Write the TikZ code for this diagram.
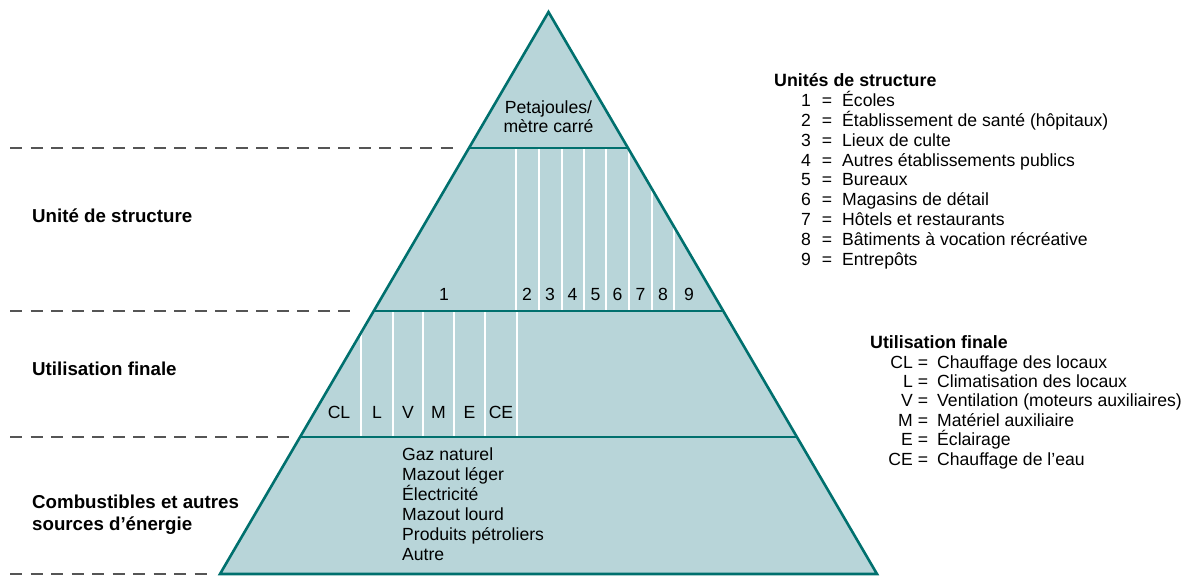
\documentclass[tikz,border=0pt]{standalone}
\usepackage{fontspec}
\setmainfont{Liberation Sans}
\definecolor{pfill}{HTML}{B8D5D9}
\definecolor{pline}{HTML}{00706E}
\definecolor{dashgray}{HTML}{555555}
\begin{document}
\begin{tikzpicture}[x=1pt,y=-1pt,
  txt/.style={font=\fontsize{17.6}{20}\selectfont, inner sep=0pt, anchor=base},
  txtw/.style={txt, anchor=base west},
  txte/.style={txt, anchor=base east},
  head/.style={font=\fontsize{17.8}{20}\selectfont\bfseries, inner sep=0pt, anchor=base west},
  lab/.style={font=\fontsize{18.7}{22}\selectfont\bfseries, inner sep=0pt, anchor=base west},
  sepline/.style={white, line width=1.6pt},
  tier/.style={pline, line width=2.6pt},
  guide/.style={dashgray, line width=1.4pt, dash pattern=on 12pt off 8.5pt}
]
\useasboundingbox (0,0) rectangle (1193,576);
\coordinate (A) at (548.5,12);
\coordinate (BL) at (220,574);
\coordinate (BR) at (877,574);
% pyramid
\fill[pfill] (A) -- (BL) -- (BR) -- cycle;
\begin{scope}
  \clip (A) -- (BL) -- (BR) -- cycle;
  \foreach \x in {516,539,562,584,606,629,652,674} \draw[sepline] (\x,148) -- (\x,311);
  \foreach \x in {361,393,423,454,485,517} \draw[sepline] (\x,311) -- (\x,437);
  \foreach \y in {148,311,437} \draw[tier] (200,\y) -- (900,\y);
\end{scope}
\draw[tier, line join=miter] (A) -- (BL) -- (BR) -- cycle;
% dashed guides
\draw[guide] (10,148) -- (455,148);
\draw[guide] (10,311) -- (357,311);
\draw[guide] (10,437) -- (290,437);
\draw[guide] (10,574) -- (212,574);
% left labels
\node[lab] (l1) at (32,222) {Unité de structure};
\node[lab] (l2) at (32,375) {Utilisation finale};
\node[lab] (l3) at (32,508) {Combustibles et autres};
\node[lab] (l4) at (32,530) {sources d’énergie};
% top
\node[txt] (p1) at (548.5,113.5) {Petajoules/};
\node[txt] (p2) at (548.5,132.5) {mètre carré};
% tier 2 numbers
\foreach \n/\x in {1/444,2/527,3/550,4/572.5,5/595.5,6/617.5,7/640.5,8/663,9/689}
  \node[txt] (n\n) at (\x,300) {\n};
% tier 3 codes
\foreach \c/\x in {CL/339,L/377,V/408,M/438.5,E/469.5,CE/501}
  \node[txt] (c\c) at (\x,418) {\c};
% tier 4 list
\foreach \t [count=\i] in {Gaz naturel,Mazout léger,Électricité,Mazout lourd,Produits pétroliers,Autre}
  \node[txtw] (f\i) at (402,{460+20*(\i-1)}) {\t};
% legend 1
\node[head] (h1) at (774,86) {Unités de structure};
\foreach \t [count=\i] in {Écoles,Établissement de santé (hôpitaux),Lieux de culte,Autres établissements publics,Bureaux,Magasins de détail,Hôtels et restaurants,Bâtiments à vocation récréative,Entrepôts}{
  \node[txte] (k\i) at (811,{106.7+19.8*(\i-1)}) {\i};
  \node[txt] (e\i) at (827,{106.7+19.8*(\i-1)}) {=};
  \node[txtw] (d\i) at (842,{106.7+19.8*(\i-1)}) {\t};
}
% legend 2
\node[head] (h2) at (870,348) {Utilisation finale};
\foreach \a/\t [count=\i] in {CL/Chauffage des locaux,L/Climatisation des locaux,V/Ventilation (moteurs auxiliaires),M/Matériel auxiliaire,E/Éclairage,CE/Chauffage de l’eau}{
  \node[txte] (u\i) at (913,{368+19.4*(\i-1)}) {\a};
  \node[txt] (q\i) at (923,{368+19.4*(\i-1)}) {=};
  \node[txtw] (v\i) at (937,{368+19.4*(\i-1)}) {\t};
}
\end{tikzpicture}
\end{document}
